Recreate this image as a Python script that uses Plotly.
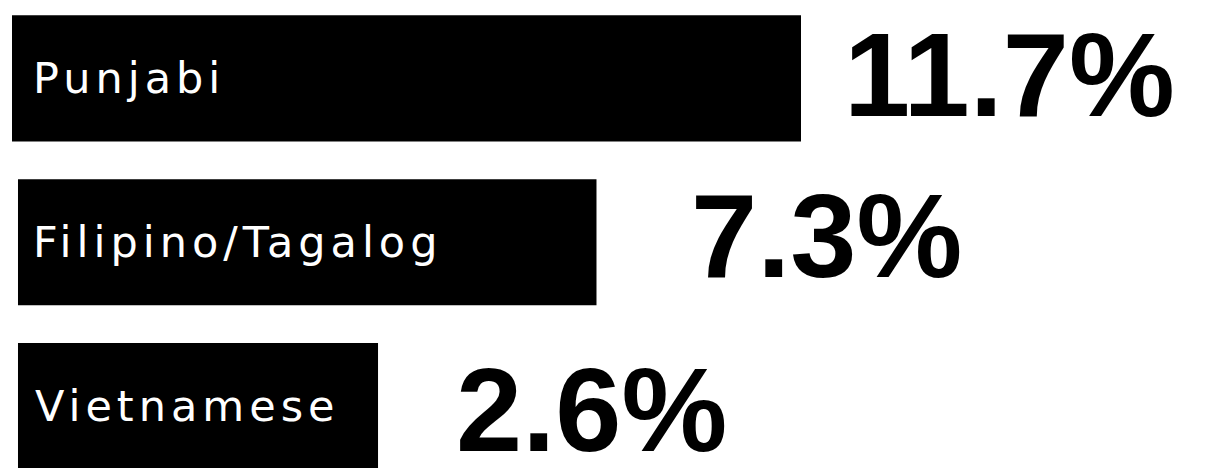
import plotly.graph_objects as go

# ---- data ----
languages = ["Punjabi", "Filipino/Tagalog", "Vietnamese"]
shares = [11.7, 7.3, 2.6]
share_labels = ["11.7%", "7.3%", "2.6%"]

# ---- style ----
BAR_BASES = [-5.275, -5.146, -5.146]   # bars start left of zero to leave room for the name
NAME_ANCHOR = -5.146
NAME_XSHIFT = [13, 13, 15]
LABEL_XSHIFT = [41, 93, 76]
LABEL_YSHIFT = [4, 7, -3]

fig = go.Figure()
fig.add_trace(go.Bar(
    y=languages,
    x=[v - b for v, b in zip(shares, BAR_BASES)],
    base=BAR_BASES,
    orientation="h",
    marker=dict(color="#000000", line=dict(width=0)),
    width=0.77,
    hoverinfo="skip",
))

for i, (name, v, lab) in enumerate(zip(languages, shares, share_labels)):
    fig.add_annotation(
        x=NAME_ANCHOR, y=name, xref="x", yref="y",
        text='<span style="letter-spacing:5px">' + name + "</span>",
        showarrow=False, xanchor="left", yanchor="middle",
        xshift=NAME_XSHIFT[i],
        font=dict(family="DejaVu Sans", size=43, color="#ffffff"),
    )
    fig.add_annotation(
        x=v, y=name, xref="x", yref="y",
        text="<b>" + lab + "</b>", showarrow=False, xanchor="left", yanchor="middle",
        xshift=LABEL_XSHIFT[i], yshift=LABEL_YSHIFT[i],
        font=dict(family="Liberation Sans", size=119, color="#000000"),
    )

fig.update_layout(
    width=1217, height=468,
    margin=dict(l=0, r=0, t=0, b=0),
    paper_bgcolor="#ffffff", plot_bgcolor="#ffffff",
    showlegend=False,
    xaxis=dict(range=[-5.361, 20.822], visible=False, showgrid=False, zeroline=False),
    yaxis=dict(range=[2.427, -0.430], visible=False, showgrid=False, zeroline=False,
               categoryorder="array", categoryarray=languages),
)

fig.write_html("out.html", config={"displayModeBar": False})
